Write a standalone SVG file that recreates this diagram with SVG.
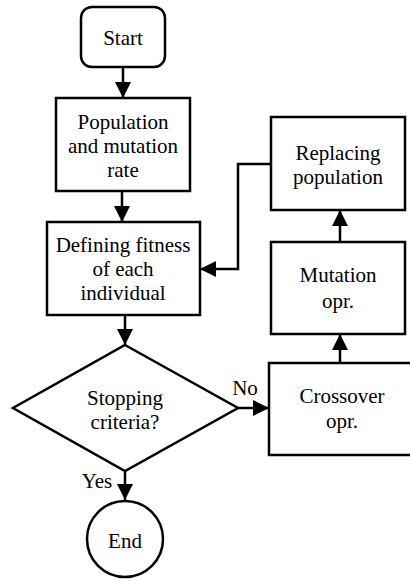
<svg xmlns="http://www.w3.org/2000/svg" width="410" height="581" viewBox="0 0 410 581" font-family="'Liberation Serif', 'Times New Roman', 'DejaVu Serif', serif">
<defs>
<style>
.box{fill:#fff;stroke:#000;stroke-width:2.5}
.ln{fill:none;stroke:#000;stroke-width:2.5}
text{font-family:'Liberation Serif','Times New Roman','DejaVu Serif',serif;font-size:21px;fill:#000;text-anchor:middle}
</style>
<marker id="ah" markerUnits="userSpaceOnUse" markerWidth="16" markerHeight="16" viewBox="0 0 16 16" refX="16" refY="8" orient="auto">
<path d="M0,0 L16,8 L0,16 Z" fill="#000"/>
</marker>
</defs>
<rect width="410" height="581" fill="#fff"/>
<g id="connectors">
<line class="ln" x1="123" y1="67" x2="123" y2="98" marker-end="url(#ah)"/>
<line class="ln" x1="122" y1="191" x2="122" y2="222" marker-end="url(#ah)"/>
<line class="ln" x1="125" y1="315" x2="125" y2="345" marker-end="url(#ah)"/>
<line class="ln" x1="238" y1="408" x2="269" y2="408" marker-end="url(#ah)"/>
<line class="ln" x1="125" y1="471" x2="125" y2="500" marker-end="url(#ah)"/>
<line class="ln" x1="340" y1="363" x2="340" y2="334" marker-end="url(#ah)"/>
<line class="ln" x1="340" y1="242" x2="340" y2="210" marker-end="url(#ah)"/>
<polyline class="ln" points="271,164 238,164 238,269 200,269" marker-end="url(#ah)"/>
<text x="245" y="395">No</text>
<text x="97" y="488">Yes</text>
</g>
<g id="start">
<rect class="box" x="81" y="7" width="84" height="60" rx="11"/>
<text x="123" y="45">Start</text>
</g>
<g id="population">
<rect class="box" x="56" y="98" width="134" height="93"/>
<text x="123" y="129">Population</text>
<text x="123" y="153">and mutation</text>
<text x="123" y="177">rate</text>
</g>
<g id="fitness">
<rect class="box" x="47" y="222" width="153" height="93"/>
<text x="123" y="252">Defining fitness</text>
<text x="123" y="276">of each</text>
<text x="123" y="300">individual</text>
</g>
<g id="stopping">
<polygon class="box" points="125,345 238,408 125,471 13,408"/>
<text x="125" y="405">Stopping</text>
<text x="125" y="429">criteria?</text>
</g>
<g id="end">
<circle class="box" cx="125" cy="539" r="38"/>
<text x="125" y="548">End</text>
</g>
<g id="crossover">
<rect class="box" x="269" y="363" width="148" height="92"/>
<text x="342" y="403">Crossover</text>
<text x="342" y="428">opr.</text>
</g>
<g id="mutation">
<rect class="box" x="271" y="242" width="134" height="92"/>
<text x="338" y="282">Mutation</text>
<text x="338" y="308">opr.</text>
</g>
<g id="replacing">
<rect class="box" x="271" y="117" width="134" height="93"/>
<text x="338" y="160">Replacing</text>
<text x="338" y="184">population</text>
</g>
</svg>
